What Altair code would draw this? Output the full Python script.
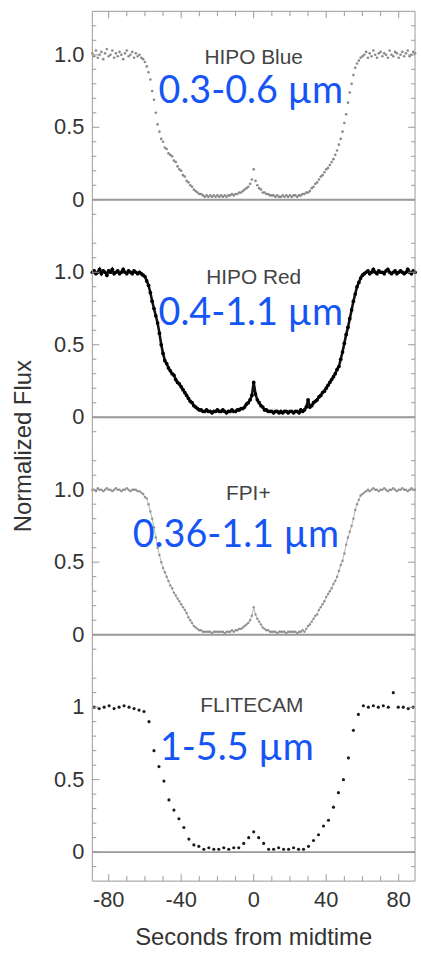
import altair as alt
import pandas as pd

# ---------------- data ----------------
T_HIPO = list(range(-89, 90))

BLUE = [
    1.01, 0.99, 1.03, 0.98, 1.00, 1.02, 0.97, 1.01, 1.04, 0.99,
    1.00, 1.03, 0.98, 1.01, 0.99, 1.02, 1.00, 0.97, 1.01, 1.03,
    0.99, 1.00, 1.02, 0.98, 1.01, 0.99, 1.00, 0.98, 0.97, 0.95,
    0.92, 0.88, 0.83, 0.75, 0.69, 0.60, 0.52, 0.47, 0.42, 0.40,
    0.36, 0.35, 0.32, 0.31, 0.30, 0.27, 0.26, 0.23, 0.21, 0.20,
    0.17, 0.16, 0.13, 0.12, 0.10, 0.09, 0.07, 0.06, 0.05, 0.04,
    0.04, 0.03, 0.02, 0.03, 0.02, 0.03, 0.02, 0.03, 0.02, 0.03,
    0.02, 0.03, 0.02, 0.03, 0.02, 0.03, 0.03, 0.04, 0.03, 0.04,
    0.04, 0.05, 0.05, 0.06, 0.07, 0.08, 0.09, 0.11, 0.14, 0.21,
    0.13, 0.10, 0.08, 0.07, 0.05, 0.05, 0.04, 0.04, 0.03, 0.03,
    0.03, 0.02, 0.03, 0.02, 0.02, 0.03, 0.02, 0.03, 0.02, 0.03,
    0.02, 0.03, 0.03, 0.02, 0.03, 0.03, 0.04, 0.04, 0.05, 0.05,
    0.06, 0.08, 0.09, 0.11, 0.12, 0.14, 0.16, 0.17, 0.19, 0.21,
    0.22, 0.24, 0.26, 0.28, 0.31, 0.34, 0.38, 0.42, 0.47, 0.53,
    0.59, 0.67, 0.74, 0.80, 0.86, 0.91, 0.94, 0.96, 0.98, 0.99,
    1.00, 1.02, 0.98, 1.01, 0.99, 1.03, 1.00, 0.98, 1.01, 1.02,
    0.99, 1.01, 1.00, 0.98, 1.03, 1.00, 0.99, 1.02, 1.01, 0.98,
    1.00, 1.02, 0.99, 1.01, 1.03, 0.99, 1.00, 1.02, 1.01,
]

RED = [
    1.00, 1.01, 0.99, 1.00, 1.02, 0.99, 1.01, 1.00, 0.98, 1.01,
    1.00, 1.02, 0.99, 1.00, 1.01, 0.99, 1.00, 1.02, 1.00, 0.99,
    1.01, 1.00, 0.99, 1.01, 1.00, 0.99, 1.00, 0.99, 0.98, 0.97,
    0.94, 0.91, 0.86, 0.80, 0.75, 0.70, 0.65, 0.58, 0.50, 0.44,
    0.39, 0.37, 0.34, 0.32, 0.30, 0.29, 0.26, 0.24, 0.23, 0.21,
    0.19, 0.17, 0.15, 0.13, 0.11, 0.10, 0.08, 0.07, 0.06, 0.05,
    0.05, 0.04, 0.04, 0.05, 0.04, 0.04, 0.03, 0.04, 0.04, 0.05,
    0.04, 0.04, 0.05, 0.04, 0.03, 0.04, 0.04, 0.05, 0.04, 0.04,
    0.05, 0.05, 0.06, 0.06, 0.07, 0.09, 0.10, 0.12, 0.15, 0.24,
    0.16, 0.12, 0.10, 0.08, 0.07, 0.05, 0.05, 0.04, 0.04, 0.04,
    0.03, 0.04, 0.04, 0.03, 0.04, 0.03, 0.04, 0.04, 0.03, 0.04,
    0.04, 0.03, 0.04, 0.04, 0.03, 0.05, 0.04, 0.05, 0.07, 0.12,
    0.07, 0.08, 0.10, 0.11, 0.12, 0.14, 0.15, 0.17, 0.18, 0.20,
    0.22, 0.24, 0.26, 0.28, 0.30, 0.33, 0.35, 0.40, 0.45, 0.51,
    0.57, 0.62, 0.68, 0.74, 0.80, 0.85, 0.90, 0.93, 0.96, 0.98,
    0.99, 1.00, 1.01, 0.99, 1.00, 1.02, 1.00, 0.99, 1.01, 1.00,
    1.00, 0.99, 1.01, 1.02, 1.00, 0.99, 1.00, 1.01, 0.99, 1.00,
    1.01, 1.00, 0.99, 1.00, 1.02, 1.00, 0.99, 1.01, 1.00,
]

FPI = [
    1.00, 1.00, 0.99, 1.01, 1.00, 1.00, 0.99, 1.00, 1.01, 1.00,
    1.00, 0.99, 1.00, 1.01, 1.00, 1.00, 0.99, 1.00, 1.00, 1.01,
    1.00, 0.99, 1.00, 1.00, 1.00, 0.99, 0.99, 0.98, 0.97, 0.95,
    0.94, 0.90, 0.85, 0.80, 0.74, 0.67, 0.60, 0.55, 0.50, 0.46,
    0.43, 0.40, 0.37, 0.34, 0.32, 0.29, 0.27, 0.25, 0.23, 0.21,
    0.19, 0.17, 0.15, 0.12, 0.10, 0.08, 0.06, 0.05, 0.04, 0.03,
    0.03, 0.02, 0.02, 0.02, 0.02, 0.02, 0.01, 0.02, 0.02, 0.02,
    0.02, 0.02, 0.02, 0.01, 0.02, 0.02, 0.02, 0.03, 0.02, 0.03,
    0.03, 0.04, 0.04, 0.05, 0.06, 0.07, 0.08, 0.10, 0.13, 0.19,
    0.14, 0.11, 0.09, 0.07, 0.05, 0.04, 0.03, 0.03, 0.02, 0.02,
    0.02, 0.02, 0.01, 0.02, 0.02, 0.02, 0.02, 0.01, 0.02, 0.02,
    0.02, 0.02, 0.02, 0.01, 0.02, 0.02, 0.03, 0.02, 0.04, 0.06,
    0.07, 0.09, 0.11, 0.13, 0.14, 0.17, 0.19, 0.21, 0.23, 0.26,
    0.28, 0.30, 0.32, 0.35, 0.37, 0.40, 0.44, 0.48, 0.51, 0.56,
    0.62, 0.67, 0.71, 0.75, 0.80, 0.86, 0.90, 0.93, 0.96, 0.97,
    0.98, 0.99, 1.00, 0.99, 1.00, 1.01, 1.00, 1.00, 0.99, 1.00,
    1.00, 1.01, 1.00, 0.99, 1.00, 1.00, 1.01, 1.00, 0.99, 1.00,
    1.00, 1.01, 1.00, 1.00, 0.99, 1.00, 1.01, 1.00, 1.00,
]

FLT_T = [
    -88.0, -85.25, -82.5, -79.75, -77.0, -74.25, -71.5, -68.75, -66.0, -63.25,
    -60.5, -57.75, -55.0, -52.25, -49.5, -46.75, -44.0, -41.25, -38.5, -35.75,
    -33.0, -30.25, -27.5, -24.75, -22.0, -19.25, -16.5, -13.75, -11.0, -8.25,
    -5.5, -2.75, 0.0, 2.75, 5.5, 8.25, 11.0, 13.75, 16.5, 19.25,
    22.0, 24.75, 27.5, 30.25, 33.0, 35.75, 38.5, 41.25, 44.0, 46.75,
    49.5, 52.25, 55.0, 57.75, 60.5, 63.25, 66.0, 68.75, 71.5, 74.25,
    77.0, 79.75, 82.5, 85.25, 88.0,
]
FLT = [
    1.00, 0.99, 1.00, 1.01, 0.99, 1.00, 1.01, 1.00, 0.99, 0.98,
    0.97, 0.90, 0.70, 0.59, 0.49, 0.36, 0.29, 0.23, 0.17, 0.09,
    0.05, 0.04, 0.02, 0.03, 0.02, 0.02, 0.03, 0.02, 0.03, 0.03,
    0.06, 0.10, 0.14, 0.10, 0.06, 0.02, 0.02, 0.03, 0.02, 0.02,
    0.03, 0.02, 0.02, 0.04, 0.08, 0.12, 0.18, 0.22, 0.31, 0.41,
    0.50, 0.65, 0.84, 0.95, 1.01, 1.00, 1.01, 1.00, 1.01, 1.00,
    1.10, 1.00, 1.00, 0.99, 1.00,
]

NAMES = ["HIPO Blue", "HIPO Red", "FPI+", "FLITECAM"]
BANDS = ["0.3-0.6 µm", "0.4-1.1 µm", "0.36-1.1 µm", "1-5.5 µm"]
NAME_POS = [(0, 0.98), (0, 0.96), (-3, 0.97), (-1, 1.01)]
BAND_POS = [(-1.6, 0.74), (-1.6, 0.71), (-9.8, 0.68), (-9.3, 0.71)]

X_MAJOR = [-80, -40, 0, 40, 80]
X_LABELS = ["-80", "-40", "0", "40", "80"]
X_MINOR = [-70, -60, -50, -30, -20, -10, 10, 20, 30, 50, 60, 70]
Y_MAJOR = [0, 0.5, 1.0]
Y_LABELS = ["0", "0.5", "1.0"]
Y_LABELS_LAST = ["0", "0.5", "1"]
Y_MINOR = [-0.1, 0.1, 0.2, 0.3, 0.4, 0.6, 0.7, 0.8, 0.9, 1.1, 1.2]

# ---------------- layout ----------------
W, H = 325, 219
FRAME = "#9a9a9a"
TXT = "#333333"
LABEL_FONT = "Liberation Sans"
xs = alt.Scale(domain=[-89, 89], nice=False, zero=False)
ys = alt.Scale(domain=[-0.2, 1.3], nice=False, zero=False)

one = pd.DataFrame({"k": [0]})
xmaj = pd.DataFrame({"v": X_MAJOR, "lab": X_LABELS})
xmin = pd.DataFrame({"v": X_MINOR})
ymin = pd.DataFrame({"v": Y_MINOR})
zero_df = pd.DataFrame({"v": [0]})


def X(field):
    return alt.X(field, type="quantitative", scale=xs, axis=None)


def Y(field):
    return alt.Y(field, type="quantitative", scale=ys, axis=None)


def panel(i, df, marks, first=False, last=False):
    ymaj = pd.DataFrame({"v": Y_MAJOR, "lab": Y_LABELS_LAST if last else Y_LABELS})
    layers = []
    base = alt.Chart(df)
    for m in marks:
        layers.append(m(base).encode(x=X("t"), y=Y("f")))

    layers.append(alt.Chart(zero_df).mark_rule(color="#999", strokeWidth=2).encode(y=Y("v")))

    for d, ln in ((ymaj, 7), (ymin, 4)):
        layers.append(alt.Chart(d).mark_rule(color=FRAME).encode(
            y=Y("v"), x=alt.value(0), x2=alt.value(ln)))
        layers.append(alt.Chart(d).mark_rule(color=FRAME).encode(
            y=Y("v"), x=alt.value(W), x2=alt.value(W - ln)))

    layers.append(alt.Chart(ymaj).mark_text(
        align="right", baseline="middle", font=LABEL_FONT, fontSize=22, color=TXT,
        dx=-8).encode(y=Y("v"), x=alt.value(0), text="lab:N"))

    layers.append(alt.Chart(one).mark_rule(color=FRAME).encode(
        x=alt.value(0), y=alt.value(0), y2=alt.value(H)))
    layers.append(alt.Chart(one).mark_rule(color=FRAME).encode(
        x=alt.value(W), y=alt.value(0), y2=alt.value(H)))

    if first:
        layers.append(alt.Chart(one).mark_rule(color=FRAME).encode(
            y=alt.value(0), x=alt.value(0), x2=alt.value(W)))
        for d, ln in ((xmaj, 7), (xmin, 5)):
            layers.append(alt.Chart(d).mark_rule(color=FRAME).encode(
                x=X("v"), y=alt.value(0), y2=alt.value(ln)))
    if i == 1:
        layers.append(alt.Chart(one).mark_text(
            text="Normalized Flux", angle=270, align="center", baseline="middle",
            font=LABEL_FONT, fontSize=24, color=TXT).encode(
            x=alt.value(-69), y=alt.value(H)))
    if last:
        layers.append(alt.Chart(one).mark_rule(color=FRAME).encode(
            y=alt.value(H), x=alt.value(0), x2=alt.value(W)))
        for d, ln in ((xmaj, 7), (xmin, 5)):
            layers.append(alt.Chart(d).mark_rule(color=FRAME).encode(
                x=X("v"), y=alt.value(H), y2=alt.value(H - ln)))
        layers.append(alt.Chart(xmaj).mark_text(
            align="center", baseline="top", font=LABEL_FONT, fontSize=22, color=TXT,
            dy=9).encode(x=X("v"), y=alt.value(H), text="lab:N"))
        layers.append(alt.Chart(one).mark_text(
            text="Seconds from midtime", align="center", baseline="middle",
            font=LABEL_FONT, fontSize=24, color=TXT).encode(
            x=alt.value(W / 2), y=alt.value(H + 57)))

    nx, ny = NAME_POS[i]
    layers.append(alt.Chart(one).mark_text(
        text=NAMES[i], font=LABEL_FONT, fontSize=21, color="#444",
        align="center", baseline="middle").encode(
        x=alt.XDatum(nx, scale=xs, axis=None), y=alt.YDatum(ny, scale=ys, axis=None)))
    bx, by = BAND_POS[i]
    layers.append(alt.Chart(one).mark_text(
        text=BANDS[i], font="Lato", fontSize=38, color="#1555f5",
        align="center", baseline="middle").encode(
        x=alt.XDatum(bx, scale=xs, axis=None), y=alt.YDatum(by, scale=ys, axis=None)))

    return alt.layer(*layers).properties(width=W, height=H)


df_blue = pd.DataFrame({"t": T_HIPO, "f": BLUE})
df_red = pd.DataFrame({"t": T_HIPO, "f": RED})
df_fpi = pd.DataFrame({"t": T_HIPO, "f": FPI})
df_flt = pd.DataFrame({"t": FLT_T, "f": FLT})

p1 = panel(0, df_blue, [lambda b: b.mark_circle(size=7, color="#7d7d7d", opacity=0.9)], first=True)
p2 = panel(1, df_red, [lambda b: b.mark_line(color="#111111", strokeWidth=2.6),
                       lambda b: b.mark_circle(size=14, color="#000000", opacity=1)])
p3 = panel(2, df_fpi, [lambda b: b.mark_line(color="#b5b5b5", strokeWidth=1),
                       lambda b: b.mark_circle(size=6, color="#8a8a8a", opacity=0.9)])
p4 = panel(3, df_flt, [lambda b: b.mark_circle(size=10, color="#1a1a1a", opacity=1)], last=True)

chart = alt.vconcat(p1, p2, p3, p4, spacing=0, bounds="flush").properties(
    padding={"left": 12, "top": 7, "right": 0, "bottom": 0},
    background="white",
).configure_view(stroke=None)

chart.save("out.html", embed_options={"renderer": "svg", "actions": False})
